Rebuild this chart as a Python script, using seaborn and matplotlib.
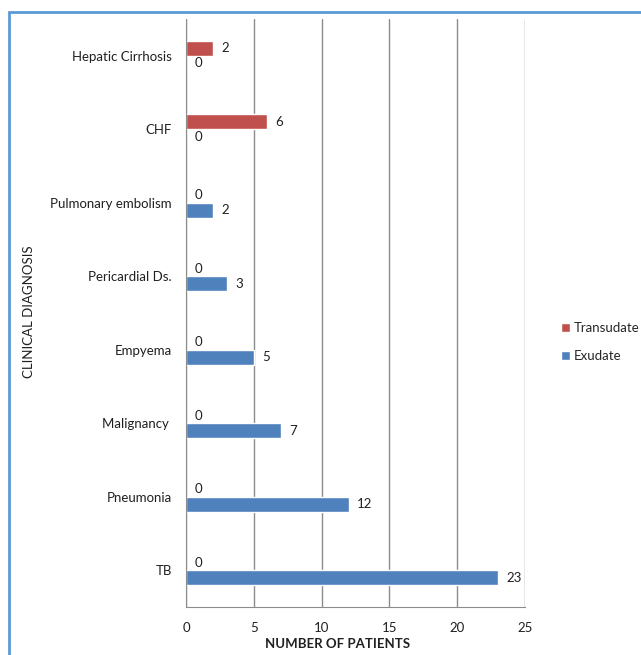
import numpy as np
import pandas as pd
import seaborn as sns
import matplotlib.pyplot as plt
from matplotlib.patches import Rectangle

diagnoses = ['Hepatic Cirrhosis', 'CHF', 'Pulmonary embolism', 'Pericardial Ds.',
             'Empyema', 'Malignancy ', 'Pneumonia', 'TB']
transudate = [2, 6, 0, 0, 0, 0, 0, 0]
exudate = [0, 0, 2, 3, 5, 7, 12, 23]

data = pd.DataFrame({
    'diagnosis': diagnoses * 2,
    'patients': transudate + exudate,
    'type': ['Transudate'] * len(diagnoses) + ['Exudate'] * len(diagnoses),
})

sns.set_style('white')
plt.rcParams['font.family'] = ['Lato', 'DejaVu Sans']
plt.rcParams['font.size'] = 9.5

fig = plt.figure(figsize=(6.41, 6.55), dpi=100)
ax = fig.add_axes([186 / 641, 1 - 607 / 655, (525 - 186) / 641, (607 - 19) / 655])

sns.barplot(data=data, x='patients', y='diagnosis', hue='type', orient='h',
            order=diagnoses, hue_order=['Transudate', 'Exudate'],
            palette=['#C0504D', '#4F81BD'], width=0.41, saturation=1,
            ax=ax, legend=True)

for cont in ax.containers:
    ax.bar_label(cont, padding=6, color='#202020', fontsize=9.5)

ax.set_xlim(0, 25)
ax.set_xticks(range(0, 26, 5))
ax.xaxis.grid(True, color='#8c8c8c', linewidth=1)
ax.set_axisbelow(True)
for s in ['top', 'right']:
    ax.spines[s].set_visible(False)
for s in ['left', 'bottom']:
    ax.spines[s].set_color('#8c8c8c')
ax.tick_params(axis='x', length=5, color='#8c8c8c', direction='out', pad=6, labelcolor='#202020')
ax.tick_params(axis='y', length=0, pad=10, labelcolor='#202020')

ax.set_xlabel('NUMBER OF PATIENTS', fontweight='bold', color='#202020')
ax.xaxis.set_label_coords(0.448, -0.053)
ax.set_ylabel('CLINICAL DIAGNOSIS', color='#202020')
ax.yaxis.set_label_coords(-(186 - 35) / 339, 0.502)

leg = ax.legend(loc='center left', bbox_to_anchor=(1.07, 0.45), frameon=False,
                handlelength=0.7, handleheight=0.7, handletextpad=0.3,
                labelspacing=1.2, fontsize=9.5)

fig.patches.append(Rectangle((9 / 641, -0.1), 1.2, 1 - 12 / 655 + 0.1,
                             transform=fig.transFigure, fill=False,
                             edgecolor='#5b9bd5', linewidth=2))

fig.savefig('out.png', dpi=100)
